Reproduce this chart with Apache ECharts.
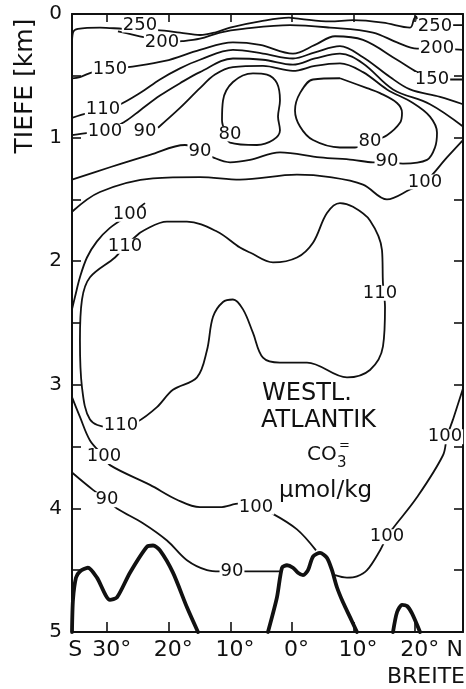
<!DOCTYPE html>
<html><head><meta charset="utf-8">
<script src="https://cdn.jsdelivr.net/npm/echarts@6/dist/echarts.min.js"></script>
<style>html,body{margin:0;padding:0;background:#fff}#c{width:466px;height:689px}</style>
</head><body><div id="c"></div>
<script>
// ---- axes ----
const depthMin = 0, depthMax = 5;
const latMin = -35.71, latMax = 27.76;
const latTicks = [-30, -20, -10, 0, 10, 20];
const latLabelPos = [-35.2, -30, -20, -10, 0, 10, 20, 26.4];
const latLabelText = ['S', '30°', '20°', '10°', '0°', '10°', '20°', 'N'];

// ---- contour lines [latitude (S negative), depth km] ----
const c250 = [[-35.71,0.25],[-35.55,0.15],[-34.74,0.12],[-31.17,0.11],[-27.44,0.12],[-21.92,0.13],[-18.18,0.15],[-14.94,0.17],[-12.5,0.15],[-10.06,0.11],[-5.19,0.06],[-0.49,0.03],[1.3,0.04],[6.17,0.06],[9.9,0.05],[14.77,0.07],[19.16,0.11],[19.81,0.04],[20.13,0.02],[20.62,0.07],[25.97,0.09],[27.76,0.09]];
const c200 = [[-28.25,0.14],[-23.86,0.19],[-21.1,0.23],[-17.86,0.22],[-14.94,0.2],[-11.69,0.15],[-7.95,0.12],[-0.32,0.09],[6.17,0.11],[13.15,0.15],[17.05,0.23],[20.29,0.28],[23.54,0.28],[27.76,0.29]];
const c150 = [[-35.71,0.52],[-34.42,0.51],[-32.31,0.47],[-29.55,0.45],[-26.62,0.43],[-20.62,0.38],[-14.94,0.29],[-9.58,0.23],[-5.19,0.25],[0.16,0.32],[3.73,0.25],[6.98,0.18],[11.53,0.21],[17.05,0.37],[20.29,0.47],[22.73,0.53],[27.76,0.53]];
const c110Upper = [[-35.71,0.84],[-33.12,0.8],[-30.68,0.77],[-28.25,0.74],[-24.68,0.64],[-21.43,0.53],[-18.18,0.44],[-14.94,0.37],[-9.58,0.29],[-4.71,0.32],[0.16,0.36],[3.73,0.31],[7.79,0.26],[11.53,0.35],[15.91,0.51],[19.16,0.61],[24.03,0.67],[27.76,0.73]];
const c100Upper = [[-35.71,0.98],[-32.79,0.96],[-30.36,0.95],[-27.11,0.87],[-24.68,0.78],[-21.43,0.66],[-18.18,0.56],[-14.94,0.47],[-9.58,0.36],[-4.71,0.37],[0.16,0.41],[3.73,0.36],[7.79,0.32],[11.53,0.4],[16.4,0.61],[22.4,0.73],[27.76,0.91]];
const c90Upper = [[-21.75,0.92],[-18.18,0.76],[-14.94,0.6],[-12.5,0.49],[-9.58,0.43],[-4.71,0.42],[0.16,0.46],[3.73,0.42],[7.79,0.4],[11.53,0.47],[15.42,0.61],[19.64,0.72],[22.4,0.83],[23.54,0.96],[23.21,1.08],[21.92,1.18],[18.02,1.21],[15.42,1.2],[13.15,1.2],[9.9,1.18],[4.55,1.16],[-1.95,1.12],[-6.82,1.18],[-10.06,1.2],[-12.82,1.16],[-14.61,1.11],[-17.37,1.06],[-23.05,1.14],[-29.55,1.24],[-35.71,1.34]];
const c80West = [[-10.88,0.95],[-10.06,1.04],[-5.68,1.06],[-3.08,1.02],[-1.95,0.94],[-2.27,0.83],[-1.95,0.7],[-2.44,0.56],[-4.06,0.49],[-6.33,0.48],[-9.58,0.55],[-11.2,0.7],[-11.36,0.86],[-10.88,0.95]];
const c80East = [[7.79,0.52],[12.18,0.6],[14.29,0.64],[17.05,0.72],[17.86,0.8],[17.53,0.88],[15.42,0.98],[12.99,1.03],[10.23,1.08],[7.79,1.08],[3.41,1.02],[1.3,0.91],[0.49,0.78],[1.3,0.64],[3.41,0.53],[7.79,0.52]];
const c100Mid = [[-35.71,1.6],[-31.17,1.44],[-22.56,1.33],[-14.94,1.32],[-8.44,1.34],[0.81,1.3],[6.17,1.32],[11.53,1.38],[15.42,1.5],[19.16,1.42],[21.59,1.36],[25.16,1.16],[27.76,1.02]];
const c100West = [[-23.86,1.53],[-26.3,1.62],[-29.55,1.73],[-31.66,1.84],[-33.28,1.97],[-34.42,2.13],[-35.23,2.29],[-35.71,2.39]];
const c110Loop = [[-24.68,1.77],[-20.29,1.68],[-17.05,1.68],[-12.18,1.76],[-8.44,1.89],[-6.82,1.93],[-3.08,2.01],[0.81,1.97],[3.41,1.85],[5.68,1.61],[7.79,1.53],[9.9,1.56],[12.66,1.67],[14.61,1.91],[14.77,2.18],[15.1,2.37],[14.77,2.69],[12.66,2.88],[8.93,2.94],[2.44,2.82],[-1.95,2.82],[-4.71,2.78],[-6.33,2.58],[-7.95,2.39],[-9.58,2.31],[-11.2,2.33],[-12.82,2.45],[-13.8,2.72],[-15.42,2.94],[-19.32,3.04],[-21.92,3.18],[-25.16,3.3],[-27.76,3.34],[-30.03,3.34],[-32.79,3.28],[-34.09,3.02],[-34.42,2.64],[-34.09,2.31],[-32.79,2.13],[-28.73,1.97],[-27.11,1.88],[-24.68,1.77]];
const c100DeepWest = [[-35.71,3.1],[-34.42,3.26],[-32.79,3.45],[-30.52,3.58],[-29.55,3.65],[-23.05,3.81],[-18.67,3.93],[-14.94,3.99],[-11.69,3.99],[-8.44,3.96],[-5.84,3.99],[-3.25,4.04],[0.81,4.17],[3.9,4.34]];
const c100DeepEast = [[6.98,4.54],[8.93,4.56],[10.55,4.55],[12.18,4.5],[14.29,4.34],[15.42,4.23],[16.4,4.16],[20.29,3.91],[24.51,3.57],[25.16,3.42],[26.14,3.28],[27.76,3.03]];
const c90Deep = [[-35.71,3.71],[-32.31,3.85],[-30.03,3.93],[-28.41,4.0],[-24.19,4.12],[-20.29,4.26],[-17.05,4.42],[-13.8,4.5],[-11.69,4.51],[-9.74,4.51],[-7.31,4.51],[-1.62,4.51]];

// ---- sea floor (thick) ----
const floorA = [[-35.71,5],[-35.55,4.74],[-35.06,4.56],[-34.42,4.51],[-33.12,4.48],[-31.66,4.56],[-29.55,4.74],[-28.41,4.72],[-26.3,4.52],[-23.54,4.31],[-22.56,4.3],[-21.43,4.34],[-19.32,4.52],[-17.05,4.8],[-15.26,5]];
const floorB = [[-3.9,5],[-2.44,4.72],[-1.62,4.48],[-0.81,4.46],[0.16,4.48],[0.97,4.52],[1.79,4.54],[2.6,4.5],[3.41,4.39],[4.55,4.36],[5.68,4.4],[6.49,4.5],[7.31,4.64],[8.28,4.76],[9.42,4.88],[10.55,5]];
const floorC = [[16.4,5],[17.05,4.84],[17.86,4.78],[18.67,4.79],[19.48,4.85],[20.78,5]];

// ---- contour labels [lat, depth, text] ----
const contourLabels = [
  [-24.68,0.09,'250'],[-21.1,0.23,'200'],[23.21,0.1,'250'],[23.54,0.28,'200'],
  [-29.55,0.45,'150'],[22.73,0.53,'150'],[-30.68,0.77,'110'],[-30.36,0.95,'100'],
  [-23.86,0.95,'90'],[-10.06,0.97,'80'],[-14.94,1.11,'90'],[12.66,1.03,'80'],
  [15.42,1.19,'90'],[21.59,1.36,'100'],[-26.3,1.62,'100'],[-27.11,1.88,'110'],
  [14.29,2.26,'110'],[-27.76,3.33,'110'],[-30.52,3.58,'100'],[-30.03,3.93,'90'],
  [-5.84,3.99,'100'],[-9.74,4.51,'90'],[15.42,4.23,'100'],[24.84,3.42,'100']
];

const INK = '#111';
const FONT = '"DejaVu Sans", sans-serif';
const contours = [c250,c200,c150,c110Upper,c100Upper,c90Upper,c80West,c80East,c100Mid,c100West,c110Loop,c100DeepWest,c100DeepEast,c90Deep];
const floors = [floorA, floorB, floorC];

const series = [];
contours.forEach(d => series.push({type:'line', data:d, smooth:0.35, showSymbol:false, symbol:'none', silent:true, z:2,
  lineStyle:{color:INK, width:1.8}}));
floors.forEach(d => series.push({type:'line', data:d, smooth:0.25, showSymbol:false, symbol:'none', silent:true, z:3,
  lineStyle:{color:INK, width:3.8, cap:'round', join:'round'}}));
series.push({type:'scatter', symbolSize:0, silent:true, z:10,
  itemStyle:{opacity:1, color:INK},
  data: contourLabels.map(l => ({value:[l[0], l[1]], name:l[2]})),
  label:{show:true, position:'inside', formatter:'{b}', color:INK, opacity:1, fontFamily:FONT, fontSize:18,
    backgroundColor:'#fff', padding:[0,1], lineHeight:15}});

const chart = echarts.init(document.getElementById('c'), null, {renderer:'canvas'});
const axisLine = {show:true, onZero:false, lineStyle:{color:INK, width:2}};
chart.setOption({
  animation:false,
  backgroundColor:'#fff',
  grid:{left:72, right:3, top:14, bottom:57},
  xAxis:[
    {type:'value', position:'bottom', min:latMin, max:latMax, axisLine,
     splitLine:{show:false},
     axisTick:{show:true, inside:true, length:10, customValues:latTicks, lineStyle:{color:INK, width:1.6}},
     axisLabel:{show:true, customValues:latLabelPos, margin:7, color:INK, fontFamily:FONT, fontSize:22,
       formatter:(v)=>{ let i=-1, best=1e9; latLabelPos.forEach((p,k)=>{const dd=Math.abs(p-v); if(dd<best){best=dd;i=k;}});
         const t = latLabelText[i]; return (t==='S'||t==='N') ? '{p|'+t+'}' : '{d|'+t+'}'; },
       rich:{p:{fontFamily:FONT, fontSize:22, color:INK}, d:{fontFamily:FONT, fontSize:22, color:INK, padding:[0,0,0,9]}}}},
    {type:'value', position:'top', min:latMin, max:latMax, axisLine,
     splitLine:{show:false}, axisLabel:{show:false},
     axisTick:{show:true, inside:true, length:8, customValues:latTicks, lineStyle:{color:INK, width:1.6}}}
  ],
  yAxis:[
    {type:'value', position:'left', inverse:true, min:depthMin, max:depthMax, interval:0.5, axisLine,
     splitLine:{show:false},
     axisTick:{show:true, inside:true, length:9, lineStyle:{color:INK, width:1.6}},
     axisLabel:{show:true, margin:10, color:INK, fontFamily:FONT, fontSize:20,
       formatter:(v)=> Number.isInteger(v) ? String(v) : ''}},
    {type:'value', position:'right', inverse:true, min:depthMin, max:depthMax, interval:0.5, axisLine,
     splitLine:{show:false}, axisLabel:{show:false},
     axisTick:{show:true, inside:true, length:9, lineStyle:{color:INK, width:1.6}}}
  ],
  series,
  graphic:[
    {type:'text', x:25, y:86, rotation:Math.PI/2, silent:true,
     style:{text:'TIEFE [km]', font:'25px '+FONT, fill:INK, align:'center', verticalAlign:'middle'}},
    {type:'text', x:465, y:677, silent:true,
     style:{text:'BREITE', font:'22px '+FONT, fill:INK, align:'right', verticalAlign:'middle'}},
    {type:'text', x:262, y:394, silent:true,
     style:{text:'WESTL.', font:'24px '+FONT, fill:INK, align:'left', verticalAlign:'middle'}},
    {type:'text', x:261, y:421, silent:true,
     style:{text:'ATLANTIK', font:'24px '+FONT, fill:INK, align:'left', verticalAlign:'middle'}},
    {type:'text', x:307, y:455, silent:true,
     style:{text:'CO', font:'20px '+FONT, fill:INK, align:'left', verticalAlign:'middle'}},
    {type:'text', x:337, y:463, silent:true,
     style:{text:'3', font:'15px '+FONT, fill:INK, align:'left', verticalAlign:'middle'}},
    {type:'text', x:339, y:446, silent:true,
     style:{text:'=', font:'13px '+FONT, fill:INK, align:'left', verticalAlign:'middle'}},
    {type:'text', x:279, y:491, silent:true,
     style:{text:'µmol/kg', font:'23px '+FONT, fill:INK, align:'left', verticalAlign:'middle'}}
  ]
});
</script></body></html>
